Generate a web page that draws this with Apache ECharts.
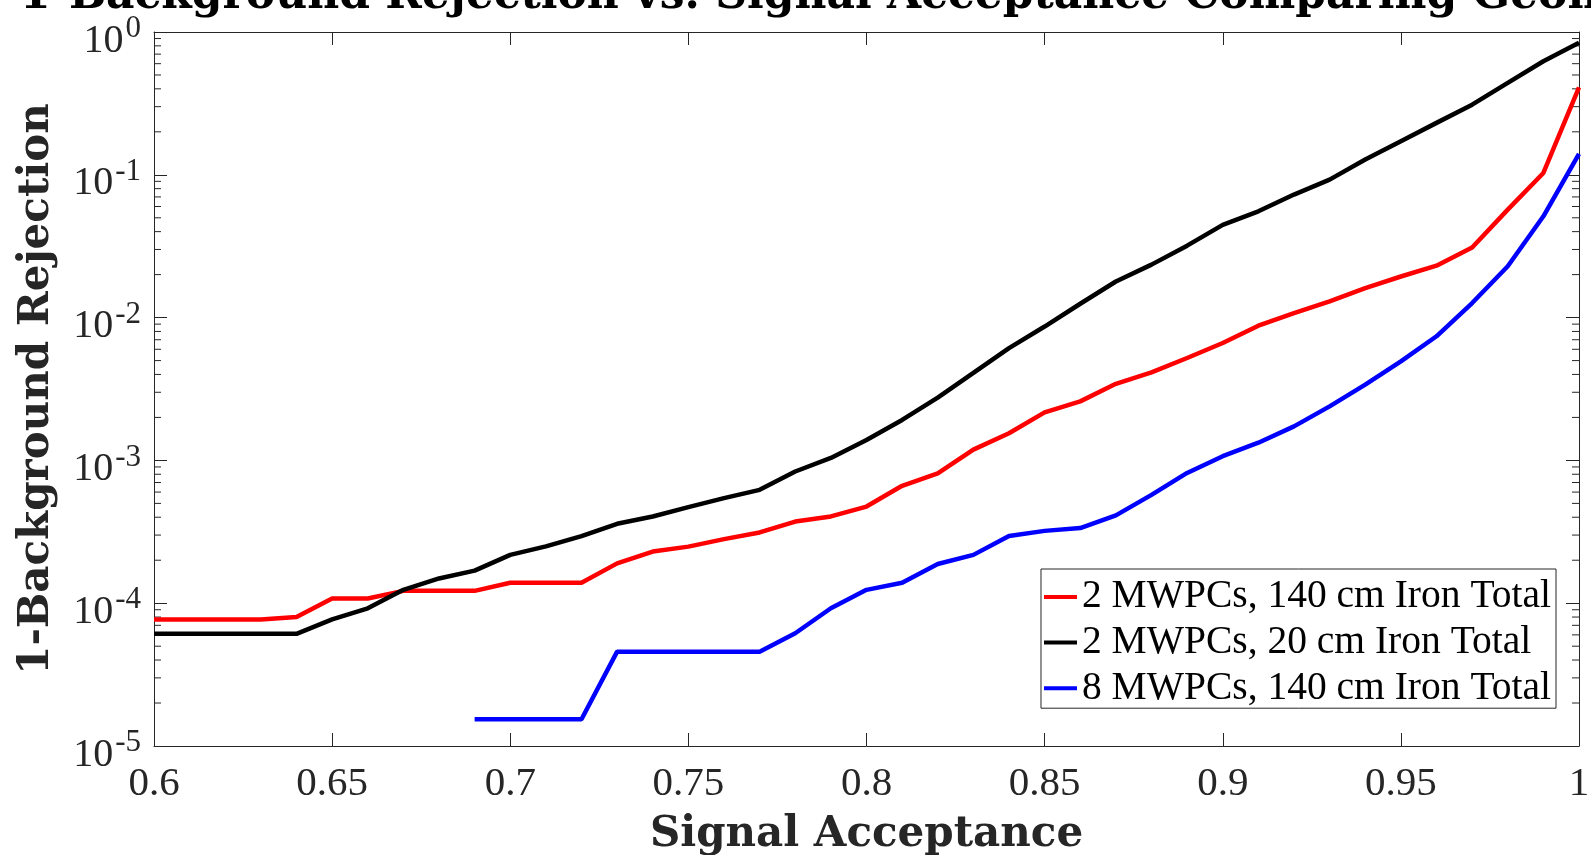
<!DOCTYPE html>
<html><head><meta charset="utf-8">
<script src="https://cdn.jsdelivr.net/npm/echarts@6/dist/echarts.min.js"></script>
<style>html,body{margin:0;padding:0;background:#fff;overflow:hidden}#c{width:1591px;height:855px}</style>
</head><body><div id="c"></div>
<script>
const acceptance = [0.60,0.61,0.62,0.63,0.64,0.65,0.66,0.67,0.68,0.69,0.70,0.71,0.72,0.73,0.74,0.75,0.76,0.77,0.78,0.79,0.80,0.81,0.82,0.83,0.84,0.85,0.86,0.87,0.88,0.89,0.90,0.91,0.92,0.93,0.94,0.95,0.96,0.97,0.98,0.99,1.00];
const red2Mwpc140cm = [7.7e-5,7.7e-5,7.7e-5,7.7e-5,8.0e-5,1.08e-4,1.08e-4,1.22e-4,1.22e-4,1.22e-4,1.39e-4,1.39e-4,1.39e-4,1.9e-4,2.3e-4,2.49e-4,2.81e-4,3.13e-4,3.73e-4,4.05e-4,4.75e-4,6.64e-4,8.1e-4,1.19e-3,1.55e-3,2.17e-3,2.59e-3,3.44e-3,4.13e-3,5.21e-3,6.64e-3,8.78e-3,1.076e-2,1.3e-2,1.61e-2,1.94e-2,2.31e-2,3.1e-2,5.7e-2,0.103,0.41];
const black2Mwpc20cm = [6.1e-5,6.1e-5,6.1e-5,6.1e-5,6.1e-5,7.7e-5,9.2e-5,1.24e-4,1.49e-4,1.69e-4,2.18e-4,2.5e-4,2.95e-4,3.6e-4,4.05e-4,4.71e-4,5.44e-4,6.22e-4,8.36e-4,1.04e-3,1.39e-3,1.92e-3,2.75e-3,4.1e-3,6.12e-3,8.66e-3,1.25e-2,1.79e-2,2.35e-2,3.19e-2,4.46e-2,5.55e-2,7.27e-2,9.25e-2,0.128,0.172,0.231,0.31,0.44,0.624,0.84];
const blue8Mwpc140cm = [null,null,null,null,null,null,null,null,null,1.54e-5,1.54e-5,1.54e-5,1.54e-5,4.58e-5,4.58e-5,4.58e-5,4.58e-5,4.58e-5,6.16e-5,9.22e-5,1.24e-4,1.39e-4,1.88e-4,2.18e-4,2.96e-4,3.21e-4,3.36e-4,4.12e-4,5.74e-4,8.17e-4,1.07e-3,1.33e-3,1.73e-3,2.39e-3,3.39e-3,4.93e-3,7.4e-3,1.265e-2,2.29e-2,5.12e-2,0.14];
const seriesNames = ['2 MWPCs, 140 cm Iron Total','2 MWPCs, 20 cm Iron Total','8 MWPCs, 140 cm Iron Total'];
const seriesColors = ['#ff0000','#000000','#0000ff'];
const xTickValues = [0.6,0.65,0.7,0.75,0.8,0.85,0.9,0.95,1];
const xTickLabels = ['0.6','0.65','0.7','0.75','0.8','0.85','0.9','0.95','1'];
const yDecades = [1e-5,1e-4,1e-3,1e-2,1e-1,1];
const yExponents = ['-5','-4','-3','-2','-1','0'];
const titleText = '1-Background Rejection vs. Signal Acceptance Comparing Geometries';
const xName = 'Signal Acceptance';
const yName = '1-Background Rejection';

const yMinor = [];
for (let i = 0; i < yDecades.length - 1; i++) for (let k = 2; k <= 9; k++) yMinor.push(k * yDecades[i]);

const axisColor = '#262626';
const serifTick = 'Liberation Serif';
const serifBold = 'DejaVu Serif';

function pairs(vals){ const out=[]; vals.forEach((v,i)=>{ if(v!==null) out.push([acceptance[i], v]); }); return out; }

const xBase = {
  type:'value', min:0.6, max:1,
  axisLine:{onZero:false, lineStyle:{color:axisColor, width:1}},
  axisTick:{inside:true, length:13, customValues:xTickValues, lineStyle:{color:axisColor, width:1}},
  splitLine:{show:false}
};
const yBase = {
  type:'log', logBase:10, min:1e-5, max:1,
  axisLine:{onZero:false, show:true, lineStyle:{color:axisColor, width:1}},
  axisTick:{inside:true, length:13, lineStyle:{color:axisColor, width:1}},
  splitLine:{show:false}, minorTick:{show:false}, minorSplitLine:{show:false}
};

const minorTickSeries = [
  {x:0.6, off:3.5},
  {x:1, off:-3.5}
].map(s=>({
  type:'scatter', xAxisIndex:0, yAxisIndex:0, silent:true, clip:false, z:1,
  symbol:'rect', symbolSize:[7,1], symbolOffset:[s.off,0],
  itemStyle:{color:axisColor, opacity:1},
  data:yMinor.map(m=>[s.x, m]), emphasis:{disabled:true}, tooltip:{show:false}
}));

const chart = echarts.init(document.getElementById('c'), null, {renderer:'canvas'});
chart.setOption({
  animation:false,
  backgroundColor:'#ffffff',
  title:{
    text:titleText, left:15, top:-30,
    textStyle:{fontFamily:serifBold, fontWeight:'bold', fontSize:44, color:'#000'}
  },
  grid:{left:154, right:12, top:32, bottom:109, containLabel:false, outerBoundsMode:'none'},
  legend:{
    orient:'vertical', right:35, top:569,
    data:seriesNames,
    icon:'rect', itemWidth:33, itemHeight:4, itemGap:5.6,
    padding:[8,5,0,3],
    borderColor:axisColor, borderWidth:1, backgroundColor:'#ffffff',
    textStyle:{fontFamily:serifTick, fontSize:39.5, color:'#000', lineHeight:40}
  },
  xAxis:[
    Object.assign({}, xBase, {
      position:'bottom',
      axisLabel:{customValues:xTickValues, fontFamily:serifTick, fontSize:41, color:axisColor, margin:18,
        formatter:(v)=>{ const i = xTickValues.findIndex(t=>Math.abs(t-v)<1e-9); return i>=0 ? xTickLabels[i] : ''; }},
      name:xName, nameLocation:'middle', nameGap:68,
      nameTextStyle:{fontFamily:serifBold, fontWeight:'bold', fontSize:42, color:axisColor}
    }),
    Object.assign({}, xBase, {position:'top', axisLabel:{show:false}})
  ],
  yAxis:[
    Object.assign({}, yBase, {
      position:'left',
      axisLabel:{margin:13, color:axisColor,
        formatter:(v)=>{ const i = yDecades.findIndex(t=>Math.abs(Math.log10(t)-Math.log10(v))<1e-6); return '{b|10}{s|' + (i>=0 ? yExponents[i] : '') + '}'; },
        rich:{
          b:{fontFamily:serifTick, fontSize:40, color:axisColor, lineHeight:40, padding:[18,0,0,0]},
          s:{fontFamily:serifTick, fontSize:31, color:axisColor, lineHeight:31, padding:[0,0,6,2]}
        }},
      name:yName, nameLocation:'middle', nameGap:96, nameRotate:90,
      nameTextStyle:{fontFamily:serifBold, fontWeight:'bold', fontSize:42, color:axisColor}
    }),
    Object.assign({}, yBase, {position:'right', axisLabel:{show:false}})
  ],
  series:[red2Mwpc140cm, black2Mwpc20cm, blue8Mwpc140cm].map((vals, i)=>({
    type:'line', name:seriesNames[i], xAxisIndex:0, yAxisIndex:0,
    data:pairs(vals), showSymbol:false, symbol:'none', clip:true, z:3,
    lineStyle:{color:seriesColors[i], width:4.5}, itemStyle:{color:seriesColors[i]},
    emphasis:{disabled:true}
  })).concat(minorTickSeries)
});
</script></body></html>
